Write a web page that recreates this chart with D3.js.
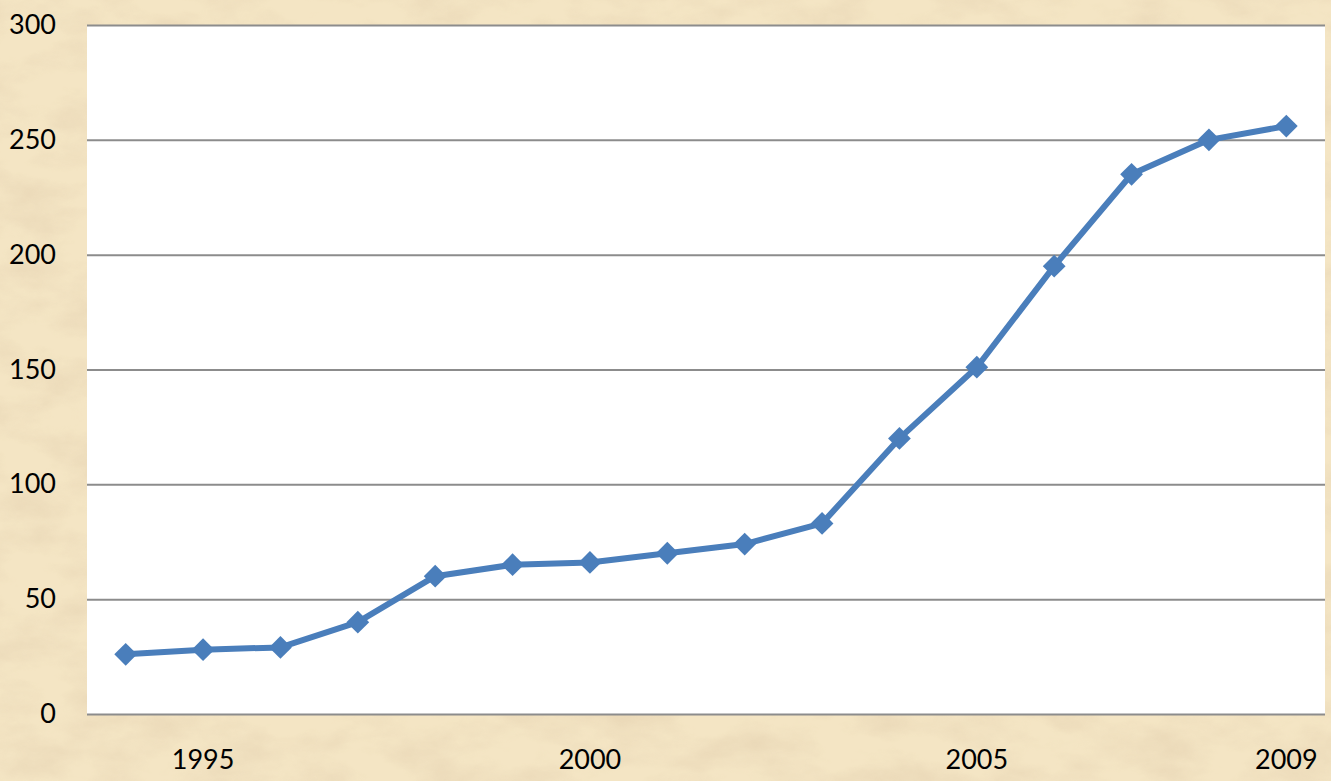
<!DOCTYPE html>
<html>
<head>
<meta charset="utf-8">
<script src="https://cdn.jsdelivr.net/npm/d3@7"></script>
<style>
  body { margin: 0; background: #efdcb6; }
  svg { display: block; }
</style>
</head>
<body>
<svg id="chart" width="1331" height="781"></svg>
<script>
const years = [1994, 1995, 1996, 1997, 1998, 1999, 2000, 2001, 2002, 2003, 2004, 2005, 2006, 2007, 2008, 2009];
const values = [26, 28, 29, 40, 60, 65, 66, 70, 74, 83, 120, 151, 195, 235, 250, 256];
const yTicks = [0, 50, 100, 150, 200, 250, 300];
const xLabels = [1995, 2000, 2005, 2009];

const svg = d3.select("#chart");
const W = 1331, H = 781;
const m = { left: 87, right: 6, top: 25, bottom: 67 };

// parchment background
const defs = svg.append("defs");
const f = defs.append("filter").attr("id", "paper").attr("x", 0).attr("y", 0).attr("width", "100%").attr("height", "100%");
f.append("feTurbulence").attr("type", "fractalNoise").attr("baseFrequency", "0.015 0.03").attr("numOctaves", 5).attr("seed", 3);
f.append("feColorMatrix").attr("type", "matrix")
  .attr("values", "0 0 0 0 0.78  0 0 0 0 0.64  0 0 0 0 0.44  0 0 0 -1.6 1.0");
f.append("feComposite").attr("in2", "SourceGraphic").attr("operator", "in");

svg.append("rect").attr("width", W).attr("height", H).attr("fill", "#f4e5c4");
svg.append("rect").attr("width", W).attr("height", H).attr("fill", "#f4e5c4").attr("filter", "url(#paper)").attr("opacity", 0.7);

const x = d3.scaleBand().domain(years).range([m.left, W - m.right]);
const y = d3.scaleLinear().domain([0, 300]).range([H - m.bottom, m.top]);

svg.append("rect")
  .attr("x", m.left).attr("y", y(300))
  .attr("width", W - m.right - m.left).attr("height", y(0) - y(300))
  .attr("fill", "#fff");

// grid + y labels
const yAxis = svg.append("g")
  .attr("transform", `translate(${m.left},0)`)
  .call(d3.axisLeft(y).tickValues(yTicks).tickSize(-(W - m.right - m.left)).tickPadding(31));
yAxis.select(".domain").remove();
yAxis.selectAll(".tick line").attr("stroke", "#8c8c8c").attr("stroke-width", 2);
yAxis.selectAll(".tick text")
  .attr("font-family", "Lato, 'Open Sans', sans-serif").attr("font-size", 27).attr("fill", "#000");

// x labels
const xAxis = svg.append("g")
  .attr("transform", `translate(0,${y(0)})`)
  .call(d3.axisBottom(x).tickValues(xLabels).tickSize(0).tickPadding(36));
xAxis.select(".domain").remove();
xAxis.selectAll(".tick text")
  .attr("font-family", "Lato, 'Open Sans', sans-serif").attr("font-size", 27).attr("fill", "#000");

const cx = d => x(d) + x.bandwidth() / 2;

const line = d3.line().x((d, i) => cx(years[i])).y(d => y(d));
svg.append("path").datum(values)
  .attr("d", line)
  .attr("fill", "none").attr("stroke", "#4a7ebb").attr("stroke-width", 6).attr("stroke-linejoin", "round");

svg.append("g").selectAll("path").data(values).join("path")
  .attr("d", d3.symbol(d3.symbolSquare, 260)())
  .attr("transform", (d, i) => `translate(${cx(years[i])},${y(d)}) rotate(45)`)
  .attr("fill", "#4a7ebb");
</script>
</body>
</html>
